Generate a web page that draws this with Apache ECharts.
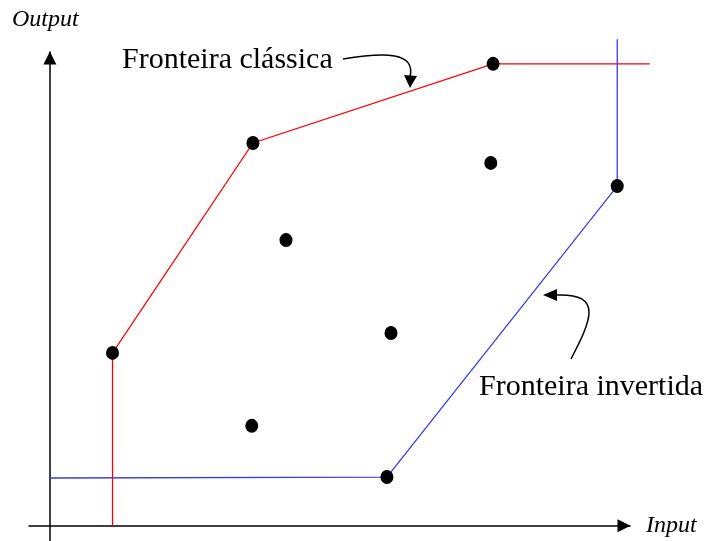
<!DOCTYPE html>
<html>
<head>
<meta charset="utf-8">
<script src="https://cdn.jsdelivr.net/npm/echarts@6/dist/echarts.min.js"></script>
<style>
  html, body { margin: 0; padding: 0; background: #fff; }
  #chart { width: 707px; height: 541px; }
</style>
</head>
<body>
<div id="chart"></div>
<script>
// DMUs (input, output) in arbitrary units
const dmuInput  = [1.08, 3.50, 7.64, 7.60, 9.78, 4.07, 5.88, 3.48, 5.81]
const dmuOutput = [3.65, 8.08, 9.75, 7.66, 7.17, 6.03, 4.07, 2.11, 1.03]

// classic frontier (red) and inverted frontier (blue)
const classicX  = [1.08, 1.08, 3.50, 7.64, 10.34]
const classicY  = [0.00, 3.65, 8.08, 9.75, 9.75]
const invertedX = [0.00, 5.81, 9.78, 9.78]
const invertedY = [1.01, 1.03, 7.17, 10.27]

const SERIF = "'Liberation Serif', 'Times New Roman', serif"

const chart = echarts.init(document.getElementById('chart'))

const axisCommon = {
  type: 'value',
  axisLine: {
    show: true,
    onZero: true,
    symbol: ['none', 'triangle'],
    symbolSize: [13, 13],
    symbolOffset: [0, -6],
    lineStyle: { color: '#000', width: 1.5 }
  },
  axisTick: { show: false },
  axisLabel: { show: false },
  splitLine: { show: false }
}

// 'lines' series so the frontiers can run past the axis ends (line series clips along x)
function frontier(name, xs, ys, color) {
  return {
    name: name,
    type: 'lines',
    coordinateSystem: 'cartesian2d',
    polyline: true,
    clip: false,
    lineStyle: { color: color, width: 1.3, opacity: 1 },
    data: [{ coords: xs.map((x, i) => [x, ys[i]]) }],
    z: 2
  }
}

const option = {
  animation: false,
  backgroundColor: '#fff',
  grid: { left: 29, right: 77, top: 52, bottom: 0 },
  xAxis: Object.assign({}, axisCommon, { min: -0.36, max: 10 }),
  yAxis: Object.assign({}, axisCommon, { min: -0.32, max: 10 }),
  series: [
    frontier('Fronteira clássica', classicX, classicY, '#ff0000'),
    frontier('Fronteira invertida', invertedX, invertedY, '#3b3be8'),
    {
      name: 'DMU',
      type: 'scatter',
      clip: false,
      symbol: 'circle',
      symbolSize: [13, 14],
      itemStyle: { color: '#000', opacity: 1 },
      data: dmuInput.map((x, i) => [x, dmuOutput[i]]),
      z: 5
    }
  ],
  graphic: [
    { type: 'text', left: 12, top: 8, style: { text: 'Output', font: 'italic 24px ' + SERIF, fill: '#000' } },
    { type: 'text', left: 646, top: 514, style: { text: 'Input', font: 'italic 24px ' + SERIF, fill: '#000' } },
    { type: 'text', x: 122, y: 60, style: { text: 'Fronteira clássica', font: '30px ' + SERIF, fill: '#000', verticalAlign: 'middle' } },
    { type: 'text', x: 479, y: 387, style: { text: 'Fronteira invertida', font: '30px ' + SERIF, fill: '#000', verticalAlign: 'middle' } },
    // curved pointer to the classic frontier
    {
      type: 'bezierCurve',
      shape: { x1: 343, y1: 59, cpx1: 385, cpy1: 52, cpx2: 416, cpy2: 52, x2: 410, y2: 77 },
      style: { stroke: '#000', lineWidth: 1.5, fill: null }
    },
    { type: 'polygon', shape: { points: [[404, 75], [417, 76], [410, 88]] }, style: { fill: '#000' } },
    // curved pointer to the inverted frontier
    {
      type: 'bezierCurve',
      shape: { x1: 571, y1: 359, cpx1: 590, cpy1: 322, cpx2: 605, cpy2: 293, x2: 556, y2: 295 },
      style: { stroke: '#000', lineWidth: 1.5, fill: null }
    },
    { type: 'polygon', shape: { points: [[557, 289], [557, 301], [543, 295]] }, style: { fill: '#000' } }
  ]
}

chart.setOption(option)
</script>
</body>
</html>
